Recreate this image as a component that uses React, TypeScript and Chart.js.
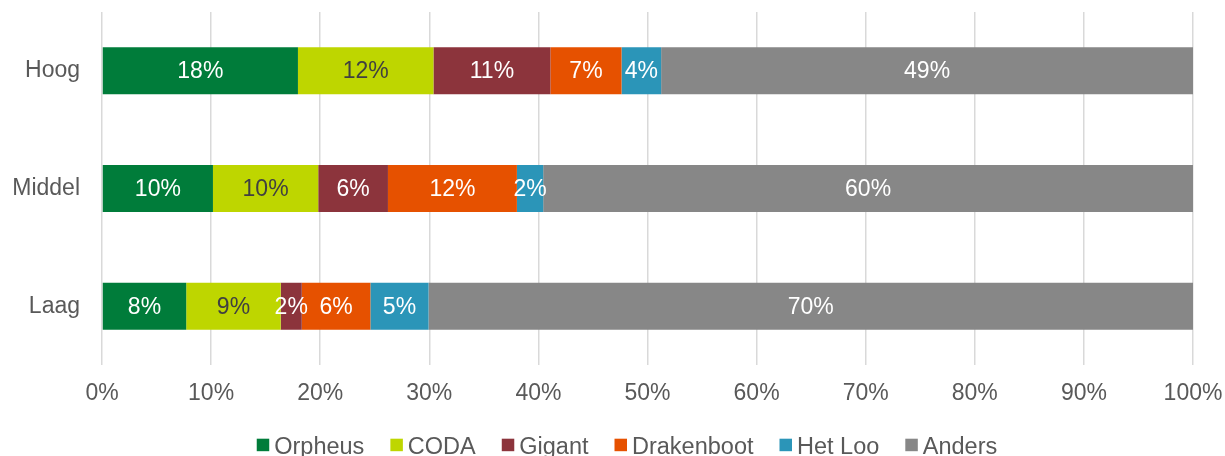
import React, { useEffect, useRef } from "react";
import { Chart, registerables } from "chart.js";

Chart.register(...registerables);

const categories = ["Hoog", "Middel", "Laag"];
const seriesNames = ["Orpheus", "CODA", "Gigant", "Drakenboot", "Het Loo", "Anders"];
const orpheus = [17.96, 10.17, 7.72];
const coda = [12.42, 9.65, 8.66];
const gigant = [10.72, 6.39, 1.93];
const drakenboot = [6.52, 11.82, 6.29];
const hetLoo = [3.63, 2.41, 5.33];
const anders = [48.75, 59.56, 70.07];
const xTicks = [0, 10, 20, 30, 40, 50, 60, 70, 80, 90, 100];

const seriesValues = [orpheus, coda, gigant, drakenboot, hetLoo, anders];
const colors = ["#007C3A", "#BED600", "#8C343C", "#E65100", "#2B95B8", "#878787"];
const labelColors = ["#FFFFFF", "#404040", "#FFFFFF", "#FFFFFF", "#FFFFFF", "#FFFFFF"];

const FONT = "'Liberation Sans', Arial, sans-serif";
const TEXT = "#595959";

const dataLabelPlugin = {
  id: "dataLabels",
  afterDatasetsDraw(chart: any) {
    const ctx = chart.ctx;
    ctx.save();
    ctx.font = `23px ${FONT}`;
    ctx.textAlign = "center";
    ctx.textBaseline = "middle";
    chart.data.datasets.forEach((ds: any, di: number) => {
      const meta = chart.getDatasetMeta(di);
      meta.data.forEach((bar: any, i: number) => {
        const v = ds.data[i];
        const cx = (bar.x + bar.base) / 2;
        ctx.fillStyle = labelColors[di];
        ctx.fillText(`${Math.round(v)}%`, cx, bar.y + 1);
      });
    });
    ctx.restore();
  },
};

const legendPlugin = {
  id: "customLegend",
  afterDraw(chart: any) {
    const ctx = chart.ctx;
    ctx.save();
    ctx.font = `23.5px ${FONT}`;
    ctx.textBaseline = "alphabetic";
    const box = 12.5;
    const gapText = 5;
    const gapItem = 26;
    const widths = seriesNames.map((n) => ctx.measureText(n).width);
    const total =
      widths.reduce((a, w) => a + box + gapText + w, 0) + gapItem * (seriesNames.length - 1);
    let x = 627 - total / 2;
    const boxTop = 438.7;
    const baseline = 453.5;
    seriesNames.forEach((n, i) => {
      ctx.fillStyle = colors[i];
      ctx.fillRect(x, boxTop, box, box);
      x += box + gapText;
      ctx.fillStyle = TEXT;
      ctx.textAlign = "left";
      ctx.fillText(n, x, baseline);
      x += widths[i] + gapItem;
    });
    ctx.restore();
  },
};

export default function App() {
  const ref = useRef<HTMLCanvasElement>(null);
  useEffect(() => {
    if (!ref.current) return;
    Chart.defaults.font.family = FONT;
    Chart.defaults.color = TEXT;
    const chart = new Chart(ref.current, {
      type: "bar",
      data: {
        labels: categories,
        datasets: seriesNames.map((name, i) => ({
          label: name,
          data: seriesValues[i],
          backgroundColor: colors[i],
          borderWidth: 0,
          categoryPercentage: 1,
          barPercentage: 0.4,
        })),
      },
      options: {
        indexAxis: "y",
        animation: false,
        responsive: false,
        maintainAspectRatio: false,
        layout: { padding: { top: 12, right: 32, bottom: 0, left: 0 } },
        plugins: {
          legend: { display: false },
          tooltip: { enabled: false },
        },
        scales: {
          x: {
            stacked: true,
            min: 0,
            max: 100,
            afterBuildTicks(scale: any) {
              scale.ticks = xTicks.map((v) => ({ value: v }));
            },
            afterFit(scale: any) {
              scale.height = 91;
              scale.paddingLeft = 0;
              scale.paddingRight = 0;
              scale.paddingTop = 0;
              scale.paddingBottom = 0;
            },
            ticks: {
              callback: (v: any) => `${v}%`,
              font: { size: 23 },
              color: TEXT,
              padding: 15,
              maxRotation: 0,
              autoSkip: false,
            },
            grid: { color: "#D9D9D9", lineWidth: 1.5, drawTicks: false },
            border: { display: false },
          },
          y: {
            stacked: true,
            afterFit(scale: any) {
              scale.width = 102;
              scale.paddingLeft = 0;
              scale.paddingRight = 0;
              scale.paddingTop = 0;
              scale.paddingBottom = 0;
            },
            ticks: { font: { size: 23 }, color: TEXT, padding: 22 },
            grid: { display: false, drawTicks: false },
            border: { display: false },
          },
        },
      },
      plugins: [dataLabelPlugin, legendPlugin],
    } as any);
    return () => chart.destroy();
  }, []);
  return (
    <div style={{ position: "absolute", left: 0, top: 0, width: 1225, height: 456, background: "#fff" }}>
      <canvas ref={ref} width={1225} height={456} style={{ width: 1225, height: 456 }} />
    </div>
  );
}
